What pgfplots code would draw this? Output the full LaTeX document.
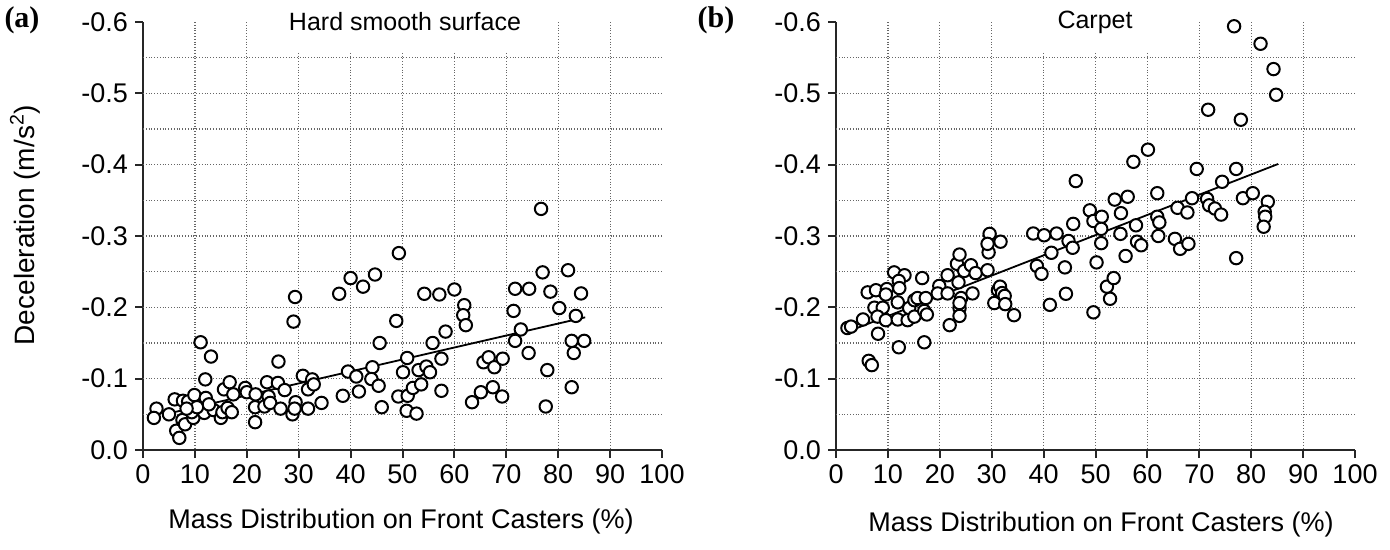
\documentclass[border=0pt]{standalone}
\usepackage{fontspec}
\setmainfont{Liberation Sans}
\newfontfamily\serifbf{Liberation Serif}[BoldFont={Liberation Serif Bold}]
\usepackage{pgfplots}
\pgfplotsset{compat=1.18}
\usepackage{pgfplotstable}

\pgfplotstableread{
x y
2.6 -0.058
2.1 -0.045
5.0 -0.050
6.1 -0.071
7.7 -0.069
8.7 -0.068
9.9 -0.077
12.1 -0.073
11.1 -0.151
13.1 -0.131
12.0 -0.099
6.4 -0.027
7.0 -0.017
7.6 -0.042
8.1 -0.036
9.7 -0.045
9.4 -0.053
11.8 -0.052
13.6 -0.056
15.0 -0.045
15.3 -0.053
15.6 -0.085
16.7 -0.095
17.4 -0.078
16.3 -0.059
17.1 -0.053
19.7 -0.087
20.0 -0.081
21.7 -0.078
21.6 -0.060
21.6 -0.039
23.4 -0.061
23.9 -0.095
24.2 -0.075
24.5 -0.066
26.0 -0.094
26.1 -0.124
26.5 -0.058
27.3 -0.084
28.8 -0.050
29.4 -0.067
29.2 -0.058
30.8 -0.104
31.8 -0.085
31.8 -0.058
32.6 -0.099
32.9 -0.092
34.4 -0.066
29.3 -0.2145
29.0 -0.180
10.4 -0.060
8.4 -0.058
12.7 -0.064
37.8 -0.219
40.0 -0.241
42.4 -0.229
44.7 -0.246
48.8 -0.181
45.6 -0.150
39.5 -0.110
41.1 -0.103
44.2 -0.116
44.0 -0.0995
45.4 -0.090
38.5 -0.076
41.6 -0.082
46.0 -0.060
50.9 -0.129
50.1 -0.109
49.2 -0.075
51.0 -0.076
52.0 -0.087
53.6 -0.092
50.8 -0.055
52.7 -0.051
53.1 -0.112
54.6 -0.117
55.3 -0.109
54.2 -0.219
57.1 -0.218
60.0 -0.225
61.9 -0.203
61.7 -0.189
62.2 -0.175
58.3 -0.166
55.8 -0.150
57.5 -0.128
57.5 -0.083
63.4 -0.067
65.1 -0.081
65.6 -0.123
66.6 -0.130
67.7 -0.116
69.3 -0.128
67.4 -0.088
69.2 -0.075
71.7 -0.226
71.4 -0.195
72.8 -0.169
71.7 -0.153
74.4 -0.226
74.3 -0.136
49.3 -0.276
76.7 -0.338
77.0 -0.249
81.9 -0.252
78.5 -0.222
84.4 -0.2195
80.2 -0.199
83.4 -0.188
82.6 -0.153
85.0 -0.153
83.0 -0.136
77.9 -0.112
82.6 -0.088
77.6 -0.061
}\hardtab

\pgfplotstableread{
x y
2.2 -0.171
2.9 -0.173
5.2 -0.183
8.1 -0.163
6.3 -0.125
6.9 -0.119
6.1 -0.221
7.7 -0.224
7.4 -0.1995
9.0 -0.1995
8.0 -0.187
9.6 -0.182
9.8 -0.2256
9.6 -0.218
11.2 -0.249
13.2 -0.245
12.1 -0.237
12.2 -0.227
11.9 -0.207
11.9 -0.183
12.1 -0.144
13.8 -0.182
14.1 -0.199
15.1 -0.187
15.1 -0.210
15.7 -0.213
16.6 -0.241
17.0 -0.151
17.0 -0.195
17.3 -0.213
17.5 -0.190
19.9 -0.230
19.6 -0.2195
21.5 -0.245
21.5 -0.2195
21.9 -0.175
23.3 -0.261
23.8 -0.274
23.6 -0.235
24.7 -0.251
26.0 -0.259
24.1 -0.213
23.8 -0.199
23.8 -0.188
23.8 -0.206
26.3 -0.2195
26.9 -0.248
29.2 -0.252
29.4 -0.277
30.5 -0.206
31.2 -0.224
46.2 -0.377
38.0 -0.3035
40.1 -0.301
42.5 -0.3035
45.7 -0.317
44.8 -0.293
45.6 -0.2835
41.5 -0.2765
38.7 -0.258
39.6 -0.247
44.1 -0.256
44.3 -0.219
41.2 -0.2035
48.9 -0.336
49.6 -0.321
51.2 -0.327
51.1 -0.310
51.1 -0.290
50.2 -0.263
52.2 -0.229
53.5 -0.241
52.8 -0.212
49.6 -0.193
53.7 -0.351
56.2 -0.355
54.9 -0.332
54.8 -0.303
57.8 -0.315
58.0 -0.292
58.8 -0.287
55.8 -0.272
31.7 -0.292
29.6 -0.303
29.2 -0.289
31.6 -0.229
32.0 -0.220
32.5 -0.216
32.6 -0.2045
34.3 -0.189
76.7 -0.594
81.8 -0.5695
84.3 -0.534
84.8 -0.498
71.7 -0.477
78.0 -0.463
60.1 -0.421
57.3 -0.404
69.5 -0.394
77.1 -0.394
74.4 -0.376
61.9 -0.360
68.6 -0.353
65.8 -0.3395
67.7 -0.333
61.9 -0.327
62.3 -0.319
71.5 -0.352
71.9 -0.343
73.0 -0.3385
74.2 -0.330
78.4 -0.353
80.3 -0.360
83.2 -0.348
82.6 -0.334
82.7 -0.327
82.4 -0.313
62.1 -0.300
65.3 -0.296
66.3 -0.282
67.9 -0.289
77.1 -0.269
}\carpettab

\pgfplotsset{
  myaxis/.style={
    scale only axis, width=259.5pt, height=214pt,
    anchor=south west,
    xmin=0, xmax=100, ymin=-0.6, ymax=0, y dir=reverse,
    axis x line*=bottom, axis y line*=left,
    x axis line style={-}, y axis line style={-},
    axis line style={line width=1pt, black!85},
    xtick={0,10,20,30,40,50,60,70,80,90,100},
    ytick={-0.6,-0.5,-0.4,-0.3,-0.2,-0.1,0},
    yticklabels={-0.6,-0.5,-0.4,-0.3,-0.2,-0.1,0.0},
    tick align=outside, major tick length=4pt,
    tick style={line width=1pt, black!85},
    /pgf/number format/assume math mode=true,
    tick label style={font=\fontsize{13.5}{15}\selectfont},
    extra x ticks={10,20,30,40,50,60,70,80,90},
    extra x tick labels={},
    extra y ticks={-0.55,-0.5,-0.45,-0.4,-0.35,-0.3,-0.25,-0.2,-0.15,-0.1,-0.05},
    extra y tick labels={},
    extra tick style={grid=major, major tick length=0pt},
    major grid style={densely dotted, black!60, line width=0.6pt},
    clip=false,
  },
  pts/.style={only marks, mark=*, mark size=3.1pt,
    mark options={fill=white, draw=black, line width=1pt}},
  fit/.style={black, line width=0.9pt, no marks},
}

\begin{document}
\begin{tikzpicture}
\begin{axis}[myaxis, at={(71.5pt,50pt)}]
  \addplot[pts] table[x=x,y=y] {\hardtab};
  \addplot[fit] coordinates {(3.9,-0.0495) (85.2,-0.186)};
\end{axis}
\begin{axis}[myaxis, at={(418pt,50pt)}]
  \addplot[pts] table[x=x,y=y] {\carpettab};
  \addplot[fit] coordinates {(2.3,-0.166) (85.2,-0.401)};
\end{axis}
% titles with white background (covering grid)
\node[fill=white, inner xsep=6pt, minimum height=30pt, font=\fontsize{12.5}{15}\selectfont] at (202.5pt,264pt) {Hard smooth surface};
\node[fill=white, inner xsep=16pt, minimum height=30pt, font=\fontsize{12.5}{15}\selectfont] at (547.5pt,264pt) {Carpet};
% axis labels
\node[rotate=90, font=\fontsize{14}{16}\selectfont] at (12.5pt,162.5pt) {Deceleration (m/s\textsuperscript{2})};
\node[font=\fontsize{13.5}{16}\selectfont] at (200.5pt,14pt) {Mass Distribution on Front Casters (\%)};
\node[font=\fontsize{13.5}{16}\selectfont] at (550.5pt,12.5pt) {Mass Distribution on Front Casters (\%)};
% panel labels
\node[font=\serifbf\bfseries\fontsize{15}{17}\selectfont] at (11pt,265pt) {(a)};
\node[font=\serifbf\bfseries\fontsize{15}{17}\selectfont] at (358pt,265pt) {(b)};
\pgfresetboundingbox
\path (0,0) rectangle (695pt,275pt);
\end{tikzpicture}
\end{document}
